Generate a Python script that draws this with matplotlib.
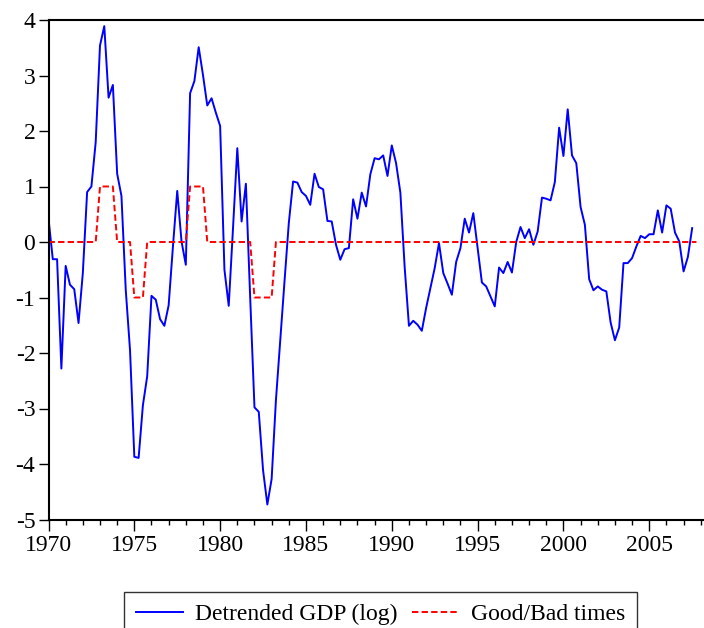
import numpy as np
import matplotlib
matplotlib.use("Agg")
import matplotlib.pyplot as plt
from matplotlib.ticker import MultipleLocator

plt.rcParams['font.family'] = ['Liberation Serif', 'DejaVu Serif']
plt.rcParams['axes.unicode_minus'] = False
plt.rcParams['lines.scale_dashes'] = False

start_year = 1970
gdp_detrended = [
    0.42, -0.31, -0.31, -2.28, -0.43, -0.77, -0.85, -1.46, -0.56, 0.90,
    1.00, 1.80, 3.54, 3.89, 2.60, 2.83, 1.23, 0.83, -0.86, -1.95,
    -3.87, -3.89, -2.94, -2.42, -0.97, -1.04, -1.39, -1.51, -1.14, -0.08,
    0.92, 0.01, -0.41, 2.68, 2.90, 3.51, 3.01, 2.46, 2.59, 2.33,
    2.09, -0.50, -1.15, 0.25, 1.69, 0.37, 1.05, -1.00, -2.98, -3.06,
    -4.11, -4.73, -4.27, -2.85, -1.77, -0.71, 0.34, 1.09, 1.07, 0.90,
    0.83, 0.67, 1.23, 0.99, 0.95, 0.38, 0.37, -0.05, -0.32, -0.13,
    -0.11, 0.77, 0.42, 0.89, 0.64, 1.22, 1.51, 1.49, 1.56, 1.19,
    1.74, 1.42, 0.89, -0.45, -1.51, -1.42, -1.49, -1.60, -1.19, -0.83,
    -0.47, -0.02, -0.56, -0.75, -0.95, -0.36, -0.11, 0.42, 0.17, 0.52,
    -0.11, -0.73, -0.80, -0.98, -1.16, -0.46, -0.56, -0.36, -0.55, 0.00,
    0.27, 0.07, 0.23, -0.05, 0.19, 0.80, 0.78, 0.75, 1.08, 2.06,
    1.55, 2.39, 1.56, 1.42, 0.63, 0.31, -0.67, -0.87, -0.80, -0.86,
    -0.89, -1.45, -1.77, -1.54, -0.38, -0.38, -0.29, -0.08, 0.11, 0.07,
    0.14, 0.14, 0.57, 0.17, 0.66, 0.60, 0.17, 0.01, -0.53, -0.27,
    0.25,
]
good_bad = ([0] * 12 + [1] * 4 + [0] * 4 + [-1] * 3 + [0] * 10 + [1] * 4
            + [0] * 11 + [-1] * 5 + [0] * 99)

x_gdp = start_year + np.arange(len(gdp_detrended)) / 4.0
x_gb = start_year + np.arange(len(good_bad)) / 4.0

fig = plt.figure(figsize=(7.04, 6.28), dpi=100)
ax = fig.add_axes([48.5 / 704, 1 - 519.5 / 628, (704 - 48.5) / 704, (519.5 - 20) / 628])

ax.plot(x_gdp, gdp_detrended, color='#0000ff', lw=1.4, label='Detrended GDP (log)')
ax.plot(x_gb, good_bad, color='#ff0000', lw=1.4, dashes=(4.6, 2.3), label='Good/Bad times')

ax.set_xlim(1970, 2008.19)
ax.set_ylim(-5, 4.0)
ax.xaxis.set_major_locator(MultipleLocator(5))
ax.xaxis.set_minor_locator(MultipleLocator(1))
ax.yaxis.set_major_locator(MultipleLocator(1))

for s in ['left', 'top', 'bottom']:
    ax.spines[s].set_linewidth(1.5)
ax.spines['right'].set_visible(False)

ax.tick_params(axis='y', which='major', direction='out', length=7.5, width=1.0,
               labelsize=17, pad=2)
ax.tick_params(axis='x', which='major', direction='out', length=8, width=1.0,
               labelsize=17, pad=3)
ax.tick_params(axis='x', which='minor', direction='out', length=3.6, width=1.0)

leg = fig.legend(loc='upper center', bbox_to_anchor=(380.3 / 704, 1 - 591.7 / 628),
                 ncol=2, fontsize=17, frameon=True, fancybox=False, shadow=False,
                 handlelength=2.0, handletextpad=0.5, columnspacing=0.6,
                 borderpad=0.5, borderaxespad=0)
leg.get_frame().set_edgecolor('black')
leg.get_frame().set_linewidth(1.0)

fig.savefig('out.png', dpi=100)
